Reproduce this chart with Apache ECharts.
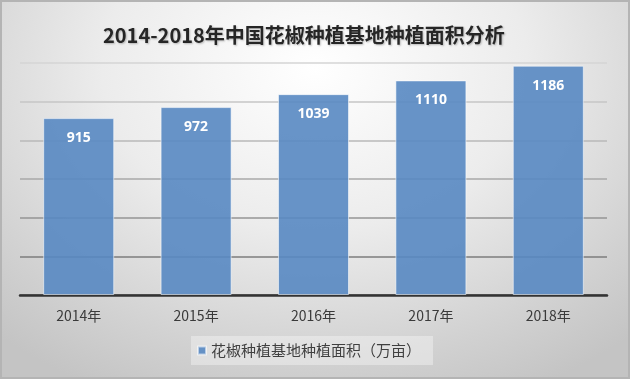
<!DOCTYPE html>
<html>
<head>
<meta charset="utf-8">
<script src="https://cdn.jsdelivr.net/npm/echarts@6/dist/echarts.min.js"></script>
<style>
html,body{margin:0;padding:0;}
#main{width:630px;height:379px;box-shadow:inset 0 0 0 2px #b4b4b4;
background:radial-gradient(ellipse 75% 95% at 50% 18%, #ffffff 0%, #ececec 45%, #d2d2d2 80%, #c4c4c4 100%);}
</style>
</head>
<body>
<div id="main"></div>
<script>
const titleText = '2014-2018年中国花椒种植基地种植面积分析';
const seriesName = '花椒种植基地种植面积（万亩）';
const categories = ['2014年', '2015年', '2016年', '2017年', '2018年'];
const values = [915, 972, 1039, 1110, 1186];

const chart = echarts.init(document.getElementById('main'), null, {renderer: 'canvas'});
chart.setOption({
  backgroundColor: 'transparent',
  title: {
    text: titleText,
    left: 98,
    top: 20,
    textStyle: {
      fontFamily: '"Noto Sans CJK SC", sans-serif',
      fontSize: 20,
      fontWeight: 'bold',
      color: '#262626',
      textShadowColor: 'rgba(0,0,0,0.25)',
      textShadowBlur: 2,
      textShadowOffsetX: 1,
      textShadowOffsetY: 1
    }
  },
  legend: {
    data: [seriesName],
    left: 191,
    top: 336,
    icon: 'rect',
    itemWidth: 8,
    itemHeight: 8,
    itemGap: 6,
    padding: [7, 12, 7, 6],
    backgroundColor: 'rgba(255,255,255,0.35)',
    textStyle: {
      fontFamily: '"Noto Sans CJK SC", sans-serif',
      fontSize: 15,
      color: '#404040'
    }
  },
  grid: {left: 20, right: 23, top: 63, bottom: 84, containLabel: false},
  xAxis: {
    type: 'category',
    data: categories,
    axisLine: {lineStyle: {color: '#333', width: 2.5}},
    axisTick: {show: false},
    axisLabel: {
      margin: 14,
      fontSize: 14,
      color: '#3a3a3a',
      fontFamily: '"Noto Sans CJK SC", sans-serif'
    }
  },
  yAxis: {
    type: 'value',
    min: 0,
    max: 1200,
    interval: 200,
    axisLabel: {show: false},
    axisLine: {show: false},
    axisTick: {show: false},
    splitLine: {
      lineStyle: {
        width: 1.5,
        color: ['#7a7a7a', '#7c7c7c', '#959595', '#a9a9a9', '#b8b8b8', '#c6c6c6', '#d4d4d4']
      }
    }
  },
  series: [{
    name: seriesName,
    type: 'bar',
    data: values,
    barWidth: '60.5%',
    itemStyle: {
      color: 'rgba(88,136,194,0.9)',
      borderColor: 'rgba(255,255,255,0.55)',
      borderWidth: 1
    },
    label: {
      show: true,
      position: 'insideTop',
      distance: 13,
      color: '#ffffff',
      fontSize: 14,
      fontWeight: 'bold',
      fontFamily: '"Open Sans", sans-serif'
    }
  }]
});
</script>
</body>
</html>
